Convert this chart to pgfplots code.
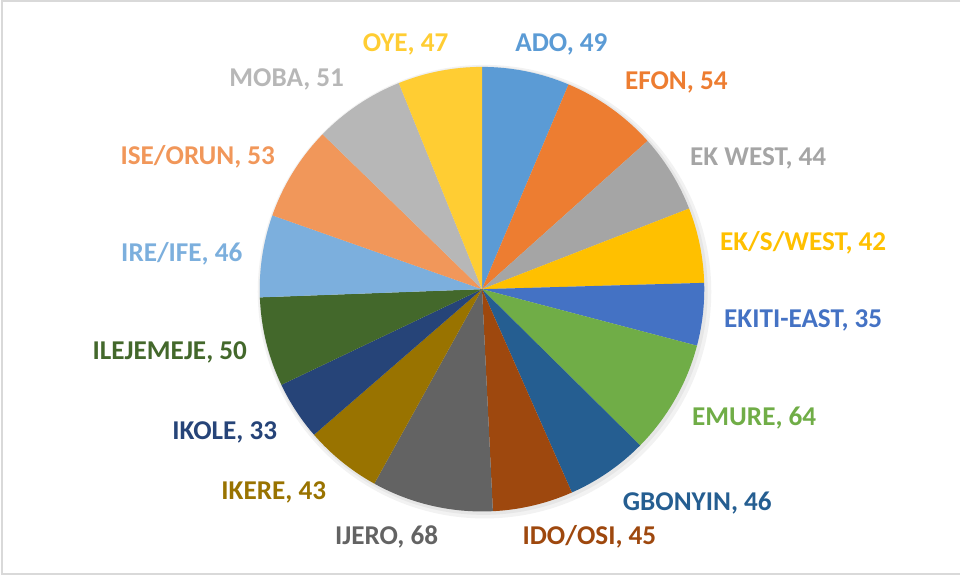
\documentclass[border=0pt]{standalone}
\usepackage{pgfplots}
\pgfplotsset{compat=1.18}
\usepackage{pgfplotstable}
\usepackage{fontspec}
\setmainfont{Carlito}

\definecolor{cADO}{HTML}{5B9BD5}
\definecolor{cEFON}{HTML}{ED7D31}
\definecolor{cEKW}{HTML}{A5A5A5}
\definecolor{cEKSW}{HTML}{FFC000}
\definecolor{cEKE}{HTML}{4472C4}
\definecolor{cEMU}{HTML}{70AD47}
\definecolor{cGBO}{HTML}{255E91}
\definecolor{cIDO}{HTML}{9E480E}
\definecolor{cIJE}{HTML}{636363}
\definecolor{cIKE}{HTML}{997300}
\definecolor{cIKO}{HTML}{264478}
\definecolor{cILE}{HTML}{43682B}
\definecolor{cIRE}{HTML}{7CAFDD}
\definecolor{cISE}{HTML}{F1975A}
\definecolor{cMOB}{HTML}{B7B7B7}
\definecolor{cOYE}{HTML}{FFCD33}
\definecolor{framecol}{HTML}{D9D9D9}

\pgfplotstableread[col sep=comma]{
name,value,col,lx,ly
ADO,49,cADO,562,52
EFON,54,cEFON,677,90
EK WEST,44,cEKW,759,166
EK/S/WEST,42,cEKSW,804,251
EKITI-EAST,35,cEKE,804,328
EMURE,64,cEMU,755,426
GBONYIN,46,cGBO,698,511
IDO/OSI,45,cIDO,590,545
IJERO,68,cIJE,387,545
IKERE,43,cIKE,274,500
IKOLE,33,cIKO,225,440
ILEJEMEJE,50,cILE,170,360
IRE/IFE,46,cIRE,182,262
ISE/ORUN,53,cISE,198,165
MOBA,51,cMOB,287,87
OYE,47,cOYE,406,52
}\piedata

\tikzset{lab/.style={font=\bfseries\fontsize{13.6}{16}\selectfont, inner sep=0pt, anchor=base}}

\begin{document}
\begin{tikzpicture}
\begin{axis}[x=0.5pt, y=0.5pt, xmin=0, xmax=961, ymin=0, ymax=577,
  hide axis, clip=false]
\path (axis cs:0,0) rectangle (axis cs:961,577);
\draw[framecol, line width=1pt] (axis cs:961,575.5) -- (axis cs:2,575.5) -- (axis cs:2,2) -- (axis cs:961,2);
\fill[black, opacity=0.05] (axis cs:485,285) circle[radius=113.5pt];
\fill[black, opacity=0.05] (axis cs:484,286) circle[radius=112.2pt];
\def\cum{0}
\pgfplotsforeachungrouped \i in {0,...,15}{%
  \pgfplotstablegetelem{\i}{value}\of\piedata \let\v\pgfplotsretval
  \pgfplotstablegetelem{\i}{col}\of\piedata \let\col\pgfplotsretval
  \pgfplotstablegetelem{\i}{name}\of\piedata \let\nm\pgfplotsretval
  \pgfplotstablegetelem{\i}{lx}\of\piedata \let\lx\pgfplotsretval
  \pgfplotstablegetelem{\i}{ly}\of\piedata \let\ly\pgfplotsretval
  \pgfmathsetmacro\a{90-(\cum/770)*360}%
  \pgfmathsetmacro\b{90-((\cum+\v)/770)*360}%
  \pgfmathsetmacro\sx{482.5+222.5*cos(\a)}%
  \pgfmathsetmacro\sy{287.5+222.5*sin(\a)}%
  \pgfmathsetmacro\yy{577-\ly}%
  \edef\cmd{\noexpand\fill[\col] (axis cs:482.5,287.5) -- (axis cs:\sx,\sy) arc[start angle=\a, end angle=\b, radius=111.25pt] -- cycle;
    \noexpand\node[lab, text=\col] at (axis cs:\lx,\yy) {\nm, \v};}%
  \cmd
  \pgfmathsetmacro\cum{\cum+\v}%
}
\end{axis}
\end{tikzpicture}
\end{document}
